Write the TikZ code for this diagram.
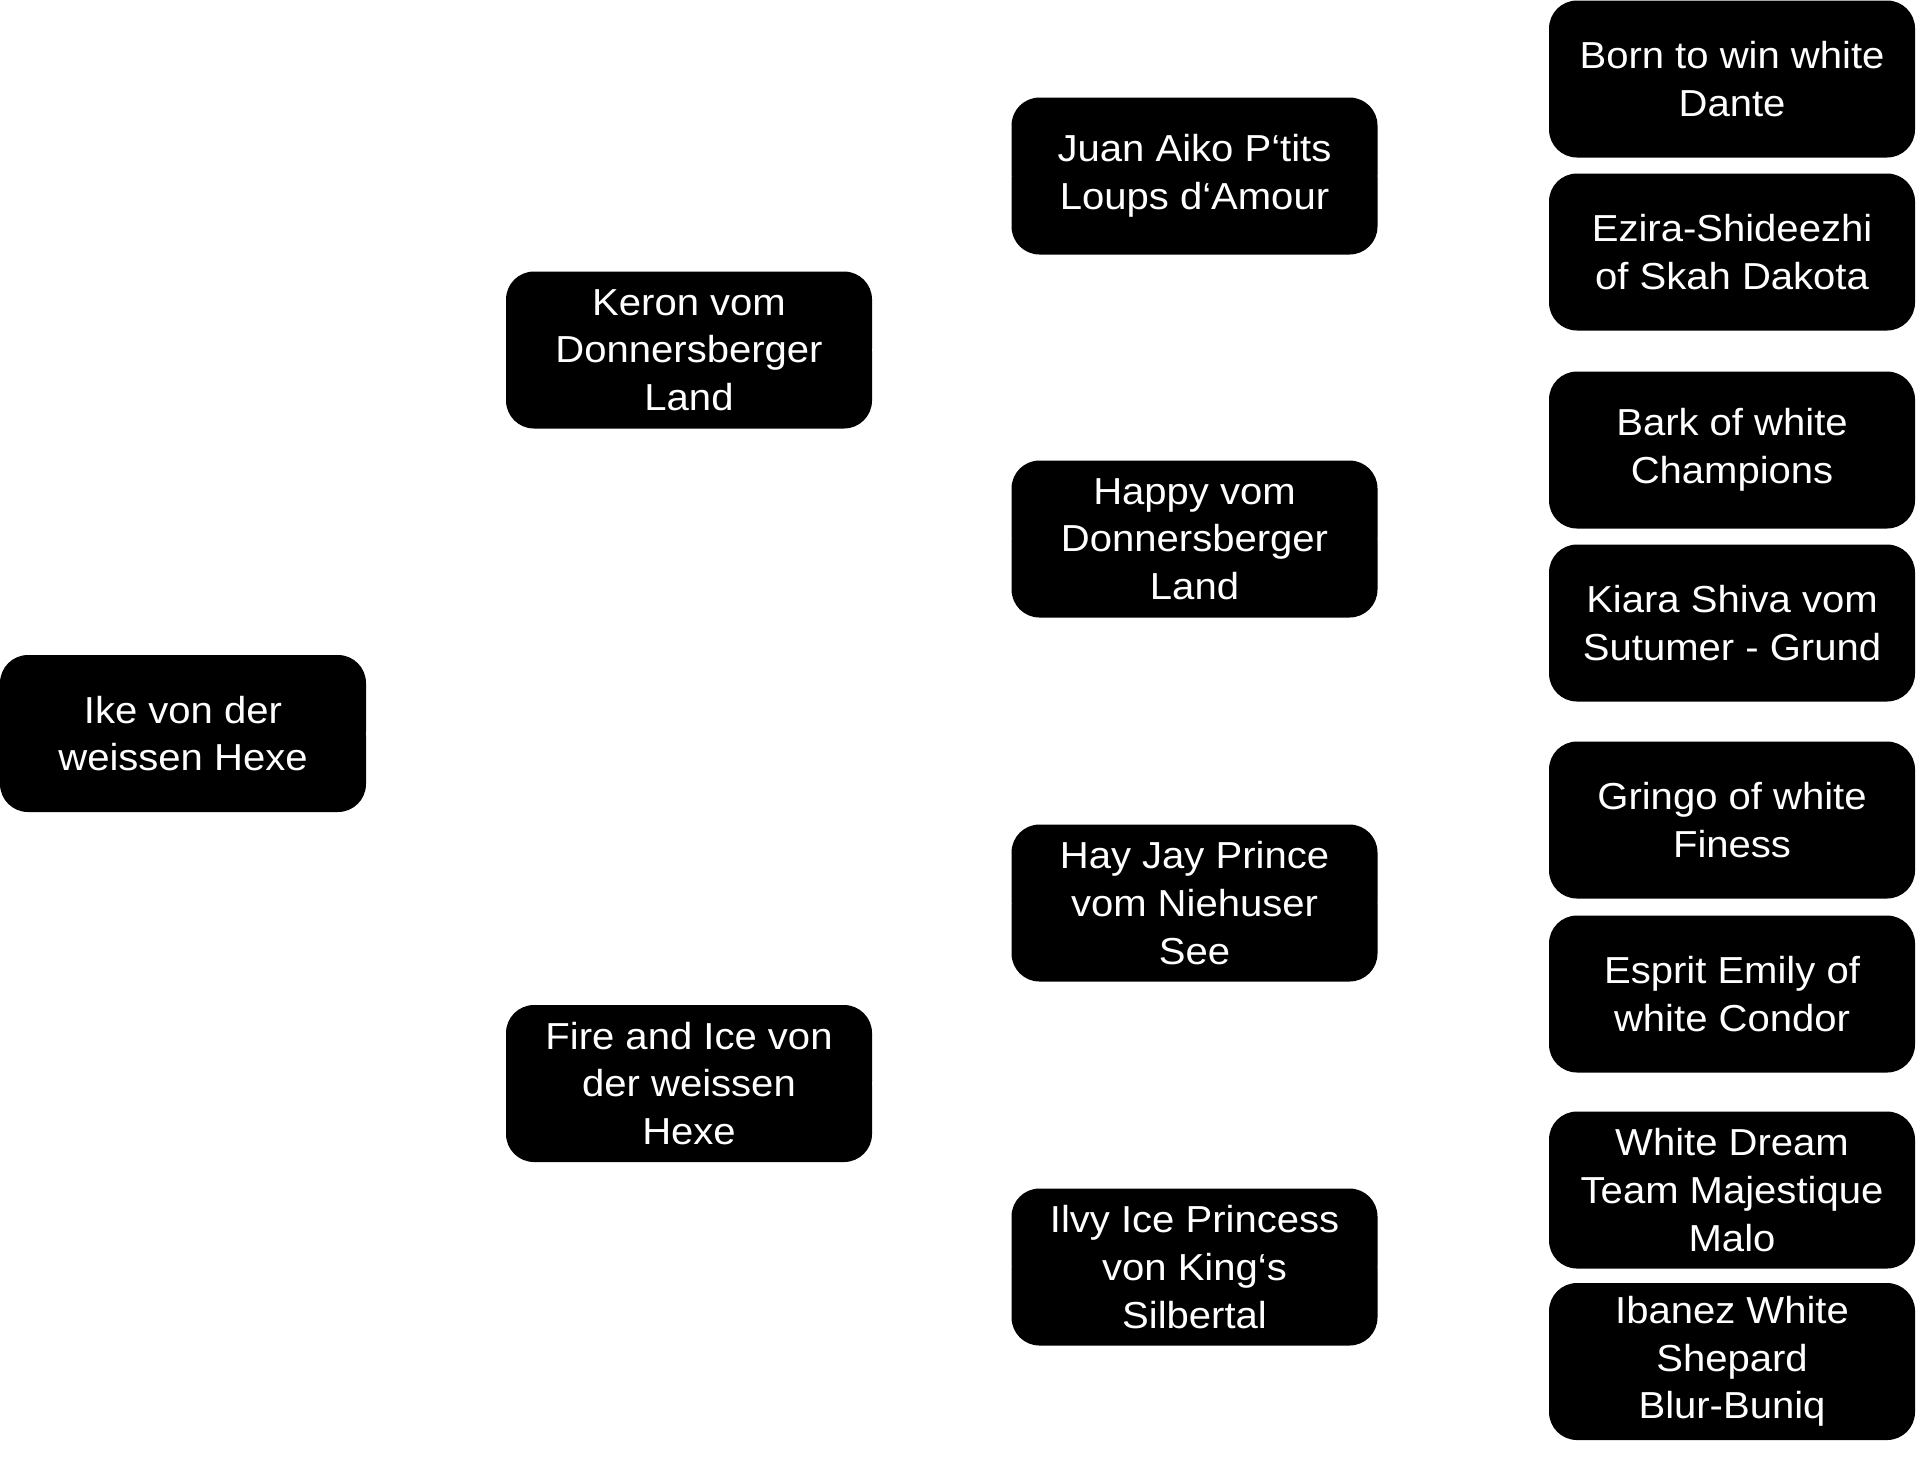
\documentclass[tikz,border=0pt]{standalone}
\usepackage{fontspec}
\setmainfont[FakeStretch=1.065]{Liberation Sans}
\usepackage{tikz}
\usetikzlibrary{positioning}

\tikzset{
  pedbox/.style={fill=black,text=white,rounded corners=14pt,inner sep=0pt,
    minimum width=183pt,minimum height=78.5pt,align=center,
    font=\fontsize{18.8}{23.8}\selectfont},
  pedline/.style={draw=white,line width=0.5pt}
}

\begin{document}
\begin{tikzpicture}[x=0.5pt,y=-0.5pt]
            \useasboundingbox (0,0) rectangle (1920,1458);
            % dog
            \node[pedbox] (ike) at (183,733.5) {Ike von der\\weissen Hexe};
            % parents
            \node[pedbox] (keron) at (689,350) {Keron vom\\Donnersberger\\Land};
            \node[pedbox] (fire) at (689,1083.5) {Fire and Ice von\\der weissen\\Hexe};
            % grandparents
            \node[pedbox] (juan) at (1194.5,176) {Juan Aiko P‘tits\\Loups d‘Amour};
            \node[pedbox] (happy) at (1194.5,539) {Happy vom\\Donnersberger\\Land};
            \node[pedbox] (hay) at (1194.5,903) {Hay Jay Prince\\vom Niehuser\\See};
            \node[pedbox] (ilvy) at (1194.5,1267) {Ilvy Ice Princess\\von King‘s\\Silbertal};
            % great-grandparents
            \node[pedbox] (born) at (1732,79) {Born to win white\\Dante};
            \node[pedbox] (ezira) at (1732,252) {Ezira-Shideezhi\\of Skah Dakota};
            \node[pedbox] (bark) at (1732,450) {Bark of white\\Champions};
            \node[pedbox] (kiara) at (1732,623) {Kiara Shiva vom\\Sutumer - Grund};
            \node[pedbox] (gringo) at (1732,820) {Gringo of white\\Finess};
            \node[pedbox] (esprit) at (1732,994) {Esprit Emily of\\white Condor};
            \node[pedbox] (dream) at (1732,1190) {White Dream\\Team Majestique\\Malo};
            \node[pedbox] (ibanez) at (1732,1361.5) {Ibanez White\\Shepard\\Blur-Buniq};
            % connectors
            \foreach \p/\c in {ike/keron,ike/fire,keron/juan,keron/happy,fire/hay,fire/ilvy,
                juan/born,juan/ezira,happy/bark,happy/kiara,hay/gringo,hay/esprit,ilvy/dream,ilvy/ibanez}
              \draw[pedline] (\p.east) -- (\c.west);
        \end{tikzpicture}
\end{document}
